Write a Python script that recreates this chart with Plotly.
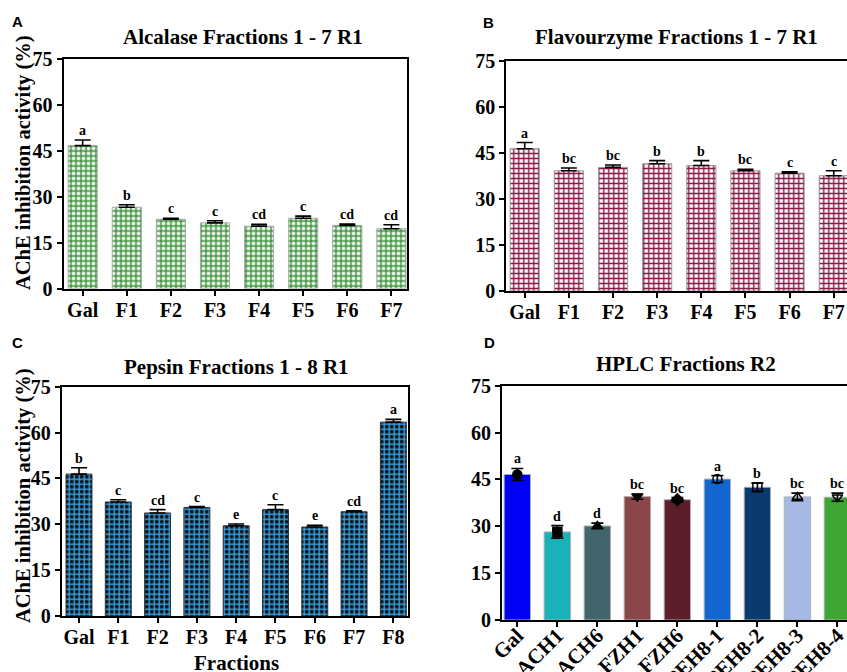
import plotly.graph_objects as go

# ---------------- data ----------------
cats_a = ["Gal", "F1", "F2", "F3", "F4", "F5", "F6", "F7"]
alcalase_mean = [46.6, 26.5, 22.6, 21.4, 20.3, 22.9, 20.6, 19.5]
alcalase_err = [1.8, 0.8, 0.3, 0.7, 0.6, 0.7, 0.4, 1.3]
alcalase_letters = ["a", "b", "c", "c", "cd", "c", "cd", "cd"]

cats_b = ["Gal", "F1", "F2", "F3", "F4", "F5", "F6", "F7"]
flav_mean = [46.4, 39.2, 40.3, 41.5, 40.9, 39.2, 38.4, 37.6]
flav_err = [2.0, 0.9, 0.8, 1.0, 1.6, 0.5, 0.5, 1.6]
flav_letters = ["a", "bc", "bc", "b", "b", "bc", "c", "c"]

cats_c = ["Gal", "F1", "F2", "F3", "F4", "F5", "F6", "F7", "F8"]
pepsin_mean = [46.4, 37.3, 33.7, 35.5, 29.5, 34.8, 29.1, 34.1, 63.4]
pepsin_err = [2.1, 0.7, 1.1, 0.3, 0.6, 1.6, 0.6, 0.3, 0.9]
pepsin_letters = ["b", "c", "cd", "c", "e", "c", "e", "cd", "a"]

cats_d = ["Gal", "ACH1", "ACH6", "FZH1", "FZH6", "PEH8-1", "PEH8-2", "PEH8-3", "PEH8-4"]
hplc_mean = [46.6, 28.2, 30.1, 39.5, 38.5, 45.1, 42.5, 39.4, 39.3]
hplc_err = [1.9, 2.0, 0.9, 0.85, 0.7, 1.1, 1.3, 1.2, 1.3]
hplc_letters = ["a", "d", "d", "bc", "bc", "a", "b", "bc", "bc"]
hplc_colors = ["#0000F5", "#17B3B8", "#42646B", "#8B4649", "#5C1E2A",
               "#1166D0", "#0A3A6E", "#A6B8E6", "#3FA535"]
hplc_symbols = ["circle", "square", "triangle-up", "triangle-down", "diamond",
                "circle-open", "square-open", "triangle-up-open", "triangle-down-open"]

yticks = [0, 15, 30, 45, 60, 75]

SERIF = "Liberation Serif, Times New Roman, serif"
SANS = "Liberation Sans, Arial, sans-serif"
W, H = 847, 672

fig = go.Figure()


def px_x(v):
    return v / W


def px_y(v):
    return 1 - v / H


def add_panel(idx, cats, mean, err, letters, pattern_fg, pattern_bg, line_col):
    sfx = "" if idx == 1 else str(idx)
    fig.add_trace(go.Bar(
        x=cats, y=mean, width=0.66,
        marker=dict(
            color=pattern_bg,
            line=dict(color=line_col, width=1),
            pattern=dict(shape="+", fgcolor=pattern_fg, bgcolor=pattern_bg,
                         size=5, solidity=0.5, fillmode="replace"),
        ),
        error_y=dict(type="data", symmetric=False, array=err,
                     arrayminus=[0] * len(err), color="black",
                     thickness=1.6, width=8),
        xaxis="x" + sfx, yaxis="y" + sfx, showlegend=False,
    ))
    for c, m, e, l in zip(cats, mean, err, letters):
        fig.add_annotation(x=c, y=m + e, xref="x" + sfx, yref="y" + sfx,
                           text="<b>" + l + "</b>", showarrow=False,
                           yanchor="bottom", yshift=0,
                           font=dict(family=SERIF, size=14, color="black"))


add_panel(1, cats_a, alcalase_mean, alcalase_err, alcalase_letters,
          "#2E8B2E", "white", "#A8A8A8")
add_panel(2, cats_b, flav_mean, flav_err, flav_letters,
          "#8B1A4A", "white", "#9A9A9A")
add_panel(3, cats_c, pepsin_mean, pepsin_err, pepsin_letters,
          "#3AA6E8", "#0A0A0A", "#303030")

# Panel D
fig.add_trace(go.Bar(
    x=cats_d, y=hplc_mean, width=0.66,
    marker=dict(color=hplc_colors, line=dict(color="#B0B0B0", width=1)),
    error_y=dict(type="data", array=hplc_err, color="black", thickness=1.6, width=6),
    xaxis="x4", yaxis="y4", showlegend=False,
))
fig.add_trace(go.Scatter(
    x=cats_d, y=hplc_mean, mode="markers",
    marker=dict(symbol=hplc_symbols, size=9, color="black",
                line=dict(color="black", width=1.5)),
    xaxis="x4", yaxis="y4", showlegend=False,
))
for c, m, e, l in zip(cats_d, hplc_mean, hplc_err, hplc_letters):
    fig.add_annotation(x=c, y=m + e, xref="x4", yref="y4",
                       text="<b>" + l + "</b>", showarrow=False,
                       yanchor="bottom", yshift=0,
                       font=dict(family=SERIF, size=14, color="black"))

tickfont = dict(family=SERIF, size=20, color="black", weight="bold")


def xaxis(domain, rng, anchor, angle=0, size=20, standoff=-3):
    return dict(domain=domain, range=rng, anchor=anchor, showline=True,
                linecolor="black", linewidth=2, mirror=True, ticks="outside",
                ticklen=5, tickwidth=1.5, tickcolor="black", showgrid=False,
                tickangle=angle, zeroline=False, automargin=False,
                ticklabelstandoff=standoff,
                tickfont=dict(family=SERIF, size=size, color="black", weight="bold"),
                fixedrange=True)


def yaxis(domain, anchor, mirror):
    return dict(domain=domain, range=[0, 75], anchor=anchor, showline=True,
                linecolor="black", linewidth=2, mirror=mirror, ticks="outside",
                ticklen=5, tickwidth=1.5, tickcolor="black", showgrid=False,
                tickvals=yticks, zeroline=False, tickfont=tickfont,
                automargin=False, fixedrange=True)


fig.update_layout(
    width=W, height=H,
    margin=dict(l=0, r=0, t=0, b=0, autoexpand=False),
    paper_bgcolor="white", plot_bgcolor="white",
    bargap=0.34,
    xaxis=xaxis([px_x(63.5), px_x(407)], [-0.435, 7.354], "y"),
    yaxis=yaxis([px_y(288.5), px_y(58.5)], "x", True),
    xaxis2=xaxis([px_x(506.3), 1.0], [-0.417, 7.30], "y2"),
    yaxis2=yaxis([px_y(291), px_y(61)], "x2", False),
    xaxis3=xaxis([px_x(61.7), px_x(408.3)], [-0.44, 8.38], "y3"),
    yaxis3=yaxis([px_y(616), px_y(386.7)], "x3", True),
    xaxis4=xaxis([px_x(502), 1.0], [-0.383, 8.24], "y4", angle=-45, size=21,
                 standoff=-12),
    yaxis4=yaxis([px_y(620), px_y(385.7)], "x4", False),
)

# titles
for txt, x, y in [("Alcalase Fractions 1 - 7 R1", 243, 37),
                  ("Flavourzyme Fractions 1 - 7 R1", 676, 37),
                  ("Pepsin Fractions 1 - 8 R1", 236, 367),
                  ("HPLC Fractions R2", 686, 364)]:
    fig.add_annotation(x=px_x(x), y=px_y(y), xref="paper", yref="paper",
                       text="<b>" + txt + "</b>", showarrow=False,
                       xanchor="center", yanchor="middle",
                       font=dict(family=SERIF, size=21, color="black"))

# panel letters
for txt, x, y in [("A", 17, 22), ("B", 488, 23), ("C", 17, 342), ("D", 489, 342)]:
    fig.add_annotation(x=px_x(x), y=px_y(y), xref="paper", yref="paper",
                       text="<b>" + txt + "</b>", showarrow=False,
                       xanchor="center", yanchor="middle",
                       font=dict(family=SANS, size=15, color="black"))

# y axis titles
for y in [163, 496]:
    fig.add_annotation(x=px_x(23), y=px_y(y), xref="paper", yref="paper",
                       text="<b>AChE inhibition activity (%)</b>", showarrow=False,
                       textangle=-90, xanchor="center", yanchor="middle",
                       font=dict(family=SERIF, size=20.5, color="black"))

# x axis title panel C
fig.add_annotation(x=px_x(236.7), y=px_y(663), xref="paper", yref="paper",
                   text="<b>Fractions</b>", showarrow=False,
                   xanchor="center", yanchor="middle",
                   font=dict(family=SERIF, size=21, color="black"))

fig.write_html("out.html")
